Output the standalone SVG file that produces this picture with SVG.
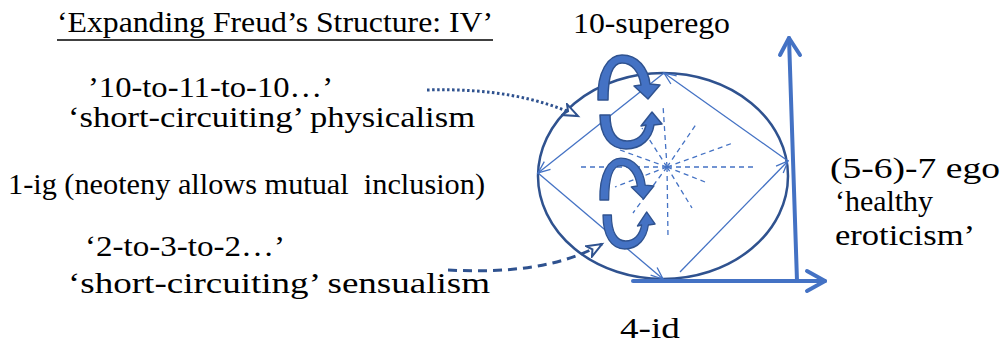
<svg xmlns="http://www.w3.org/2000/svg" width="1005" height="344" viewBox="0 0 1005 344">
<style>
text{font-family:"Liberation Serif","Times New Roman",serif;font-size:30px;fill:#000;white-space:pre}
.edge{stroke:#4472C4;stroke-width:1.3;fill:none}
.ray{stroke:#4472C4;stroke-width:1.3;stroke-dasharray:5 4;fill:none}
.axis{stroke:#4472C4;stroke-width:4;fill:none;stroke-linecap:round;stroke-linejoin:round}
.curl{fill:#4472C4;stroke:#2F528F;stroke-width:1.5;stroke-linejoin:round}
.conn{stroke:#2F528F;stroke-width:3;fill:none}
</style>
<defs>
<marker id="v" markerUnits="userSpaceOnUse" markerWidth="16" markerHeight="14" refX="13" refY="6" orient="auto">
<path d="M1,1 L13,6 L1,11" fill="none" stroke="#4472C4" stroke-width="1.3"/>
</marker>
<marker id="open" markerUnits="userSpaceOnUse" markerWidth="20" markerHeight="16" refX="16" refY="7" orient="auto">
<path d="M1,1 L16,7 L1,13 L5,7 Z" fill="#fff" stroke="#2F528F" stroke-width="2" stroke-linejoin="miter"/>
</marker>
<path id="curlDown" d="M598,100 C597,72 608,55 622,55 C638,55 648,68 650,84 L660,85 L648,99 L634,86 L641,85 C639,72 632,63 622,63 C613,63 608,76 608,100 Z"/>
<path id="curlUp" d="M600,115 C600,136 610,149 626,149 C642,149 652,138 654,125 L662,124 L652,112 L641,126 L646,125 C644,135 637,141 627,141 C617,141 610,133 610,115 Z"/>
</defs>

<g id="ellipse-node">
<ellipse cx="663" cy="176" rx="125" ry="103" fill="none" stroke="#2F528F" stroke-width="2.5"/>
</g>

<g id="rays">
<line class="ray" x1="667" y1="167" x2="663" y2="105"/>
<line class="ray" x1="667" y1="167" x2="668" y2="237"/>
<line class="ray" x1="667" y1="167" x2="580" y2="167"/>
<line class="ray" x1="667" y1="167" x2="753" y2="167"/>
<line class="ray" x1="667" y1="167" x2="733" y2="143"/>
<line class="ray" x1="667" y1="167" x2="615" y2="187"/>
<line class="ray" x1="667" y1="167" x2="697" y2="123"/>
<line class="ray" x1="667" y1="167" x2="633" y2="213"/>
<line class="ray" x1="667" y1="167" x2="642" y2="128"/>
<line class="ray" x1="667" y1="167" x2="692" y2="208"/>
<line class="ray" x1="667" y1="167" x2="620" y2="150"/>
<line class="ray" x1="667" y1="167" x2="705" y2="182"/>
</g>

<g id="connectors">
<line class="edge" x1="788" y1="161" x2="664" y2="73" marker-end="url(#v)"/>
<line class="edge" x1="664" y1="73" x2="538" y2="173" marker-end="url(#v)"/>
<line class="edge" x1="538" y1="173" x2="663" y2="279" marker-end="url(#v)"/>
<line class="edge" x1="680" y1="272" x2="788" y2="161" marker-end="url(#v)"/>
<path class="conn" d="M427,90 C490,88 540,98 578,116" stroke-dasharray="2.5 2.5" marker-end="url(#open)"/>
<path class="conn" d="M448,270 C505,273 560,268 602,244" stroke-dasharray="9 6" marker-end="url(#open)"/>
</g>

<g id="axes">
<polyline class="axis" points="797,281 789,38"/>
<polyline class="axis" points="780,55 789,38 800,55"/>
<polyline class="axis" points="633,281 825,281"/>
<polyline class="axis" points="807,271 825,281 807,291"/>
</g>

<g id="curls">
<use href="#curlDown" class="curl"/>
<use href="#curlUp" class="curl"/>
<use href="#curlDown" class="curl" transform="matrix(0.87,0,0,0.93,79.7,107)"/>
<use href="#curlUp" class="curl" transform="matrix(0.84,0,0,1,99,100)"/>
</g>

<g id="title">
<text x="57" y="32" textLength="436" lengthAdjust="spacingAndGlyphs">‘Expanding Freud’s Structure: IV’</text>
<line x1="57" y1="40" x2="493" y2="40" stroke="#000" stroke-width="1.5"/>
</g>
<g id="superego"><text x="573" y="33" textLength="157" lengthAdjust="spacingAndGlyphs">10-superego</text></g>
<g id="physicalism">
<text x="88" y="97" textLength="245" lengthAdjust="spacingAndGlyphs">’10-to-11-to-10…’</text>
<text x="68" y="127" textLength="407" lengthAdjust="spacingAndGlyphs">‘short-circuiting’ physicalism</text>
</g>
<g id="ig"><text x="8" y="194" textLength="477" lengthAdjust="spacingAndGlyphs">1-ig (neoteny allows mutual  inclusion)</text></g>
<g id="sensualism">
<text x="85" y="256" textLength="200" lengthAdjust="spacingAndGlyphs">‘2-to-3-to-2…’</text>
<text x="68" y="293" textLength="422" lengthAdjust="spacingAndGlyphs">‘short-circuiting’ sensualism</text>
</g>
<g id="id"><text x="620" y="338" textLength="60" lengthAdjust="spacingAndGlyphs">4-id</text></g>
<g id="ego">
<text x="830" y="178" textLength="170" lengthAdjust="spacingAndGlyphs">(5-6)-7 ego</text>
<text x="835" y="211" textLength="98" lengthAdjust="spacingAndGlyphs">‘healthy</text>
<text x="835" y="245" textLength="140" lengthAdjust="spacingAndGlyphs">eroticism’</text>
</g>
</svg>
